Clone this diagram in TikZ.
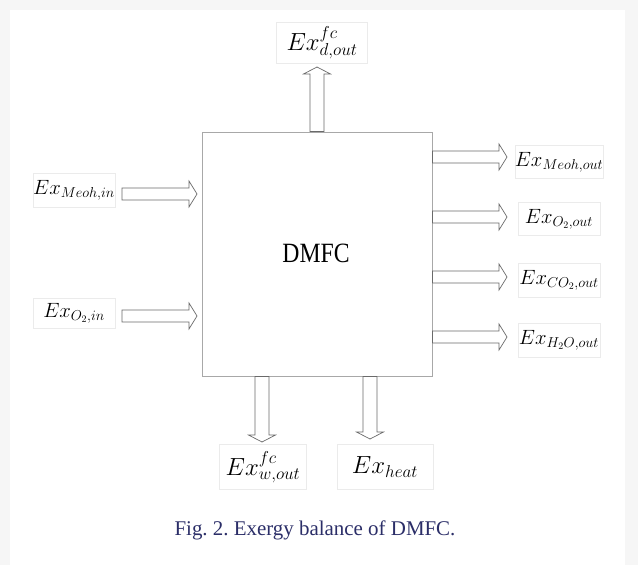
\documentclass[tikz,border=0pt]{standalone}
\usepackage{fontspec}
\setmainfont{Liberation Serif}
\usetikzlibrary{calc}
\frenchspacing
\definecolor{outerbg}{HTML}{F6F6F6}
\definecolor{lblframe}{HTML}{EBEBEB}
\definecolor{boxframe}{HTML}{A8A8A8}
\definecolor{arrowline}{HTML}{6A6A6A}
\definecolor{capcol}{HTML}{2B2E68}
\tikzset{
  lbl/.style={draw=lblframe, line width=0.6bp, fill=white, inner sep=0pt, font=\fontsize{20}{24}\selectfont},
  fatarrow/.style={draw=arrowline, line width=0.7bp, fill=white, line join=miter},
}
% horizontal block arrow: #1 start, #2 tip
\newcommand\myHarrow[2]{%
  \draw[fatarrow] ([yshift=-6bp]#1) -- ([shift={(-8bp,-6bp)}]#2) -- ([shift={(-8bp,-13bp)}]#2) -- (#2)
     -- ([shift={(-8bp,13bp)}]#2) -- ([shift={(-8bp,6bp)}]#2) -- ([yshift=6bp]#1) -- cycle;}
% vertical block arrow: #1 start, #2 tip, #3 = -1 for arrow up, +1 for arrow down
\newcommand\myVarrow[3]{%
  \draw[fatarrow] ([xshift=-7bp]#1) -- ([shift={(-7bp,#3*7bp)}]#2) -- ([shift={(-13.5bp,#3*7bp)}]#2) -- (#2)
     -- ([shift={(13.5bp,#3*7bp)}]#2) -- ([shift={(7bp,#3*7bp)}]#2) -- ([xshift=7bp]#1) -- cycle;}
\begin{document}
\begin{tikzpicture}[x=1bp,y=-1bp]
  % background
  \fill[outerbg] (0,0) rectangle (638,565);
  \fill[white] (10,10) rectangle (625,565);
  \useasboundingbox (0,0) rectangle (638,565);

  % main box
  \node[draw=boxframe, line width=0.8bp, minimum width=230bp, minimum height=244bp, inner sep=0pt] (fc) at (317,254) {};
  \node[font=\fontsize{28}{30}\selectfont] (dmfc) at (316,253) {\scalebox{0.85}[1]{DMFC}};

  % labels
  \node[lbl, minimum width=91bp, minimum height=41bp, font=\fontsize{23}{26}\selectfont] (dout) at (322,43) {$Ex^{fc}_{d,out}$};
  \node[lbl, minimum width=82bp, minimum height=34bp] (meohin) at (74,190) {$Ex_{Meoh,in}$};
  \node[lbl, minimum width=82bp, minimum height=30bp] (o2in) at (74,313) {$Ex_{O_2,in}$};
  \node[lbl, minimum width=82bp, minimum height=33bp] (meohout) at (559,162) {$Ex_{Meoh,out}$};
  \node[lbl, minimum width=82bp, minimum height=33bp] (o2out) at (559,219) {$Ex_{O_2,out}$};
  \node[lbl, minimum width=82bp, minimum height=34bp] (co2out) at (559,280) {$Ex_{CO_2,out}$};
  \node[lbl, minimum width=82bp, minimum height=34bp] (h2oout) at (559,340) {$Ex_{H_2O,out}$};
  \node[lbl, minimum width=87bp, minimum height=45bp, font=\fontsize{26}{28}\selectfont] (wout) at (263,467) {$Ex^{fc}_{w,out}$};
  \node[lbl, minimum width=96bp, minimum height=45bp, font=\fontsize{27}{28}\selectfont] (heat) at (385,467) {$Ex_{heat}$};

  % arrow end points
  \coordinate (tS) at (fc.north -| 317,0);
  \coordinate (tT) at (317,67);
  \coordinate (l1S) at (122,194);
  \coordinate (l1T) at (197,194);
  \coordinate (l2S) at (122,316);
  \coordinate (l2T) at (197,316);
  \coordinate (r1S) at (fc.east |- 0,157);
  \coordinate (r1T) at (507,157);
  \coordinate (r2S) at (fc.east |- 0,217);
  \coordinate (r2T) at (507,217);
  \coordinate (r3S) at (fc.east |- 0,277);
  \coordinate (r3T) at (507,277);
  \coordinate (r4S) at (fc.east |- 0,337);
  \coordinate (r4T) at (507,337);
  \coordinate (b1S) at (fc.south -| 262,0);
  \coordinate (b1T) at (262,442);
  \coordinate (b2S) at (fc.south -| 370,0);
  \coordinate (b2T) at (370,439);

  % arrows
  \myVarrow{tS}{tT}{-1}
  \myHarrow{l1S}{l1T}
  \myHarrow{l2S}{l2T}
  \myHarrow{r1S}{r1T}
  \myHarrow{r2S}{r2T}
  \myHarrow{r3S}{r3T}
  \myHarrow{r4S}{r4T}
  \myVarrow{b1S}{b1T}{1}
  \myVarrow{b2S}{b2T}{1}

  % caption
  \node[text=capcol, font=\fontsize{21}{24}\selectfont] (cap) at (315,530) {Fig. 2. Exergy balance of DMFC.};
\end{tikzpicture}
\end{document}
